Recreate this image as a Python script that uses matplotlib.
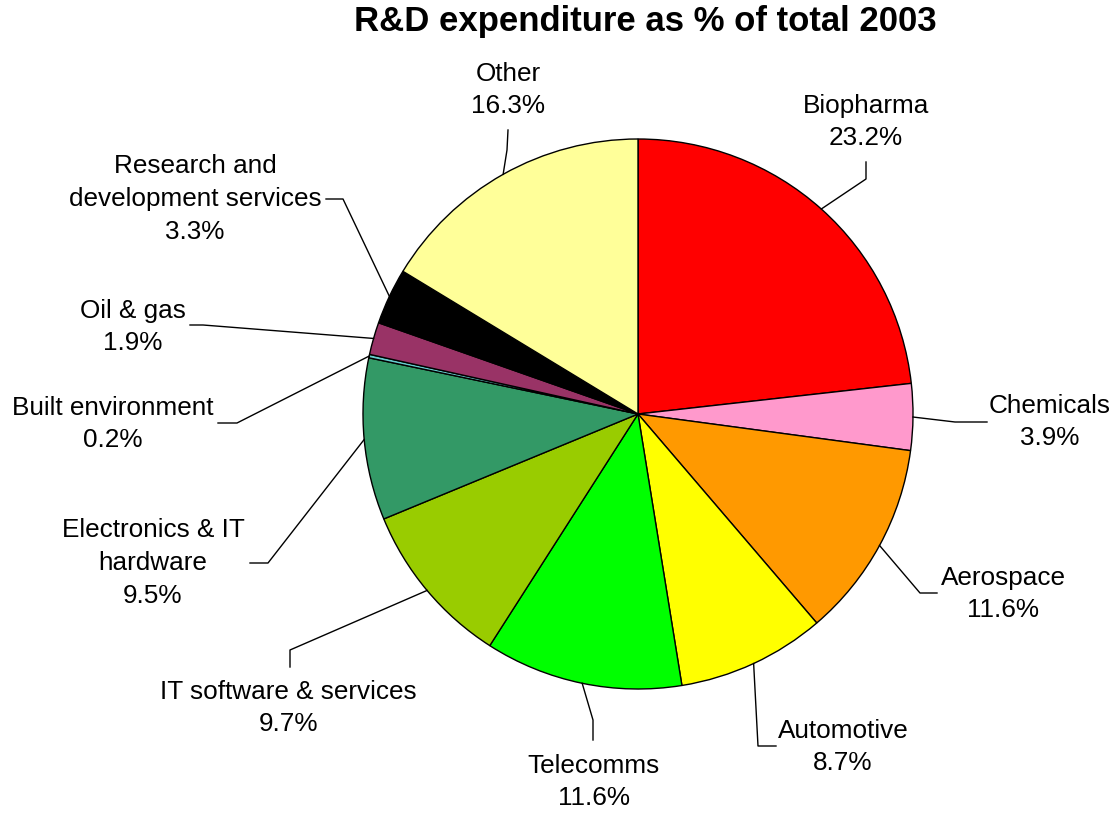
import numpy as np
import matplotlib.pyplot as plt

plt.rcParams['font.family'] = ['Liberation Sans', 'DejaVu Sans']

W, H = 1113, 813

sectors = ["Biopharma", "Chemicals", "Aerospace", "Automotive", "Telecomms",
           "IT software & services", "Electronics & IT\nhardware",
           "Built environment", "Oil & gas",
           "Research and\ndevelopment services", "Other"]
shares = [23.2, 3.9, 11.6, 8.7, 11.6, 9.7, 9.5, 0.2, 1.9, 3.3, 16.3]
colors = ["#FF0000", "#FF99CC", "#FF9900", "#FFFF00", "#00FF00", "#99CC00",
          "#339966", "#66CCCC", "#993366", "#000000", "#FFFF99"]

# label centre and leader-line elbow/end points, in pixel coords (y down)
label_xy = [(866, 122), (1050, 422), (1003, 594), (843, 747), (594, 782),
            (288, 708), (153, 563), (113, 424), (133, 327), (195, 199),
            (508, 90)]
elbow_xy = [(866, 179), (955, 422), (920, 593), (758, 746), (593, 720),
            (290, 650), (268, 563), (237, 423), (203, 325), (343, 199),
            (507, 150)]
end_xy = [(866, 162), (987, 422), (937, 593), (776, 746), (593, 740),
          (290, 667), (250, 563), (218, 423), (190, 325), (326, 199),
          (508, 130)]

cx, cy, r = 638, 414, 275

fig = plt.figure(figsize=(W / 100, H / 100), dpi=100)
ax = fig.add_axes([0, 0, 1, 1])

wedges, _ = ax.pie(shares, colors=colors, startangle=90, counterclock=False,
                   center=(cx, H - cy), radius=r,
                   wedgeprops=dict(edgecolor='black', linewidth=1.0))
ax.set_xlim(0, W)
ax.set_ylim(0, H)
ax.set_aspect('equal')
ax.axis('off')

total = sum(shares)
cum = 0
for i, (name, val) in enumerate(zip(sectors, shares)):
    mid = (cum + val / 2) / total * 2 * np.pi
    cum += val
    ex = cx + r * np.sin(mid)
    ey = cy - r * np.cos(mid)
    xs = [ex, elbow_xy[i][0], end_xy[i][0]]
    ys = [H - ey, H - elbow_xy[i][1], H - end_xy[i][1]]
    ax.plot(xs, ys, color='black', lw=1.0, zorder=1)
    lx, ly = label_xy[i]
    ax.text(lx, H - ly, f"{name}\n{val:.1f}%", ha='center', va='center',
            fontsize=18.8, linespacing=1.45, color='black')

ax.text(645, H - 22, "R&D expenditure as % of total 2003", ha='center',
        va='center', fontsize=25, fontweight='bold')

fig.savefig("out.png", dpi=100)
